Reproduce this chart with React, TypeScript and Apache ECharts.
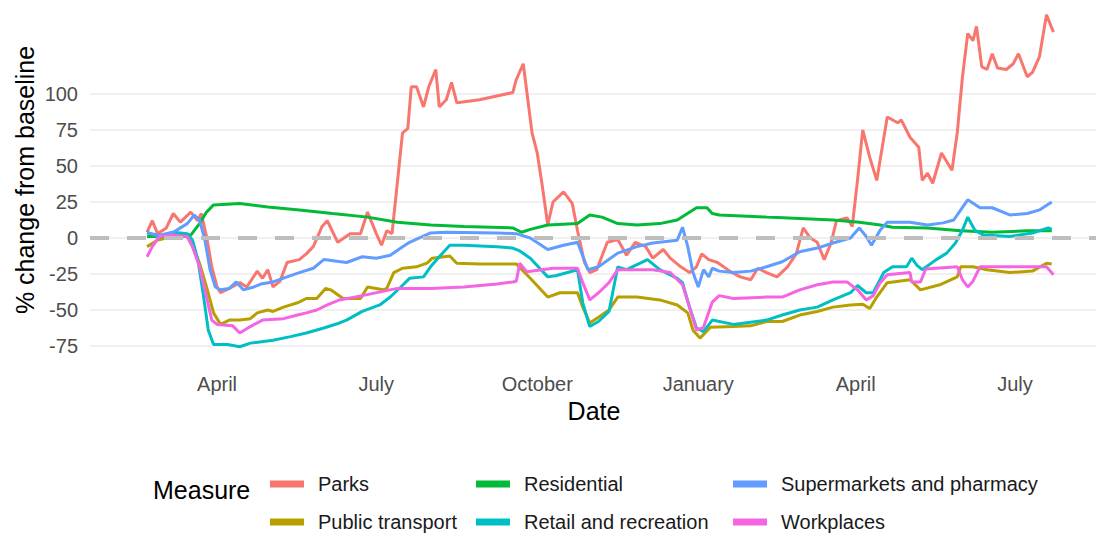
import React, { useEffect, useRef } from 'react';
import * as echarts from 'echarts';

// ---------------- DATA ----------------
const parksDates = ['2020-02-21','2020-02-24','2020-02-27','2020-03-03','2020-03-07','2020-03-11','2020-03-17','2020-03-21','2020-03-23','2020-03-26','2020-03-29','2020-04-01','2020-04-03','2020-04-08','2020-04-14','2020-04-18','2020-04-24','2020-04-27','2020-04-30','2020-05-03','2020-05-07','2020-05-11','2020-05-18','2020-05-22','2020-05-26','2020-05-31','2020-06-03','2020-06-09','2020-06-16','2020-06-22','2020-06-26','2020-07-01','2020-07-04','2020-07-07','2020-07-10','2020-07-13','2020-07-16','2020-07-19','2020-07-21','2020-07-24','2020-07-28','2020-07-31','2020-08-04','2020-08-06','2020-08-10','2020-08-13','2020-08-16','2020-08-29','2020-09-17','2020-09-19','2020-09-23','2020-09-28','2020-10-01','2020-10-04','2020-10-07','2020-10-10','2020-10-16','2020-10-21','2020-10-24','2020-10-28','2020-10-31','2020-11-04','2020-11-10','2020-11-16','2020-11-21','2020-11-26','2020-12-02','2020-12-06','2020-12-12','2020-12-16','2020-12-22','2020-12-27','2020-12-31','2021-01-03','2021-01-07','2021-01-12','2021-01-19','2021-01-25','2021-01-31','2021-02-04','2021-02-09','2021-02-15','2021-02-21','2021-02-26','2021-03-02','2021-03-06','2021-03-10','2021-03-14','2021-03-18','2021-03-21','2021-03-27','2021-03-30','2021-04-02','2021-04-05','2021-04-09','2021-04-13','2021-04-19','2021-04-25','2021-04-27','2021-05-02','2021-05-07','2021-05-09','2021-05-12','2021-05-15','2021-05-20','2021-05-26','2021-05-29','2021-06-01','2021-06-04','2021-06-07','2021-06-09','2021-06-12','2021-06-15','2021-06-18','2021-06-21','2021-06-26','2021-06-30','2021-07-03','2021-07-08','2021-07-11','2021-07-15','2021-07-19','2021-07-23'];
const parksValues = [4,12,3,7,17,11,18,12,17,1,-20,-34,-38,-35,-31,-34,-23,-28,-22,-34,-30,-17,-15,-11,-6,8,12,-3,3,3,18,3,-5,5,3,38,73,76,105,105,91,105,117,91,96,108,94,96,101,110,121,73,59,35,9,25,32,24,5,-17,-24,-22,-3,-1,-12,-3,-6,-14,-8,-14,-20,-24,-20,-11,-15,-17,-23,-27,-29,-21,-24,-27,-20,-11,7,0,-3,-15,-3,12,14,8,40,75,56,40,84,80,82,70,63,40,45,38,59,47,73,112,142,137,147,119,117,128,118,117,121,128,112,115,126,155,143];

const transportDates = ['2020-02-21','2020-02-27','2020-03-07','2020-03-15','2020-03-18','2020-03-22','2020-03-26','2020-03-30','2020-04-03','2020-04-08','2020-04-14','2020-04-20','2020-04-24','2020-04-30','2020-05-03','2020-05-09','2020-05-17','2020-05-22','2020-05-28','2020-06-02','2020-06-05','2020-06-12','2020-06-22','2020-06-26','2020-07-05','2020-07-07','2020-07-11','2020-07-16','2020-07-24','2020-07-30','2020-08-02','2020-08-12','2020-08-16','2020-08-29','2020-09-19','2020-09-27','2020-10-07','2020-10-14','2020-10-24','2020-10-27','2020-10-31','2020-11-05','2020-11-11','2020-11-16','2020-11-27','2020-12-10','2020-12-20','2020-12-26','2020-12-29','2021-01-02','2021-01-08','2021-01-21','2021-01-31','2021-02-09','2021-02-18','2021-02-28','2021-03-10','2021-03-19','2021-03-29','2021-04-05','2021-04-09','2021-04-13','2021-04-19','2021-05-02','2021-05-08','2021-05-19','2021-05-29','2021-05-31','2021-06-07','2021-06-15','2021-06-28','2021-07-11','2021-07-19','2021-07-22'];
const transportValues = [-6,-1.5,1,1,-6,-17.5,-34,-52,-60,-57,-57,-56,-52,-50,-51,-48,-45,-42,-42,-35,-36,-42,-42,-34,-36,-35,-24,-21,-20,-17.5,-14,-12.5,-17.5,-18,-18,-28,-41,-38,-38,-48,-59,-55,-50,-41,-41,-43,-46.5,-52,-64,-69.5,-62,-61.5,-61,-58,-58,-53.5,-51,-48,-46.5,-46,-49,-41,-31,-29,-36,-32.5,-27,-20,-20,-22,-24,-23,-17.5,-18];

const residentialDates = ['2020-02-21','2020-03-06','2020-03-13','2020-03-17','2020-03-22','2020-03-26','2020-03-30','2020-04-14','2020-04-30','2020-05-18','2020-06-06','2020-06-26','2020-07-13','2020-08-01','2020-08-20','2020-09-17','2020-09-22','2020-09-27','2020-10-07','2020-10-24','2020-10-31','2020-11-07','2020-11-16','2020-11-27','2020-12-10','2020-12-20','2020-12-31','2021-01-06','2021-01-09','2021-01-13','2021-02-09','2021-02-28','2021-03-19','2021-04-03','2021-04-15','2021-04-22','2021-05-12','2021-05-31','2021-06-18','2021-07-08','2021-07-22'];
const residentialValues = [1,1,2,2,10,18,23,24,21.5,19.5,17,14.5,11,9,8,7,4,6,9,10,16,14.5,10,9,10,12.5,21,21,17,16,14.5,13.5,12.5,11,9,7.5,7,5,4,5,5];

const retailDates = ['2020-02-21','2020-02-27','2020-03-07','2020-03-15','2020-03-18','2020-03-21','2020-03-24','2020-03-27','2020-03-30','2020-04-07','2020-04-14','2020-04-20','2020-05-03','2020-05-13','2020-05-22','2020-06-01','2020-06-10','2020-06-14','2020-06-23','2020-07-03','2020-07-09','2020-07-15','2020-07-20','2020-07-28','2020-08-01','2020-08-06','2020-08-12','2020-08-20','2020-09-08','2020-09-17','2020-09-21','2020-09-27','2020-10-07','2020-10-12','2020-10-24','2020-10-27','2020-10-31','2020-11-05','2020-11-11','2020-11-16','2020-11-21','2020-12-03','2020-12-10','2020-12-20','2020-12-23','2020-12-27','2020-12-31','2021-01-04','2021-01-09','2021-01-21','2021-02-09','2021-02-18','2021-02-28','2021-03-10','2021-03-19','2021-03-29','2021-04-02','2021-04-07','2021-04-11','2021-04-17','2021-04-22','2021-04-30','2021-05-03','2021-05-06','2021-05-09','2021-05-17','2021-05-23','2021-05-28','2021-06-01','2021-06-04','2021-06-08','2021-06-13','2021-06-28','2021-07-11','2021-07-20','2021-07-22'];
const retailValues = [4,1,4,3,-1.5,-15,-38,-64,-74,-74,-75.5,-73,-71,-68.5,-66,-62.5,-59,-57,-51,-46.5,-41,-34,-28,-27,-20,-13,-5,-5,-6,-7,-9,-14,-27,-26,-22,-45,-61.5,-58,-51,-20,-22,-15,-22,-28,-31,-48,-62.5,-65,-57,-60,-57,-53.5,-50,-48,-43,-38,-33,-38,-38,-24,-20,-20,-14,-19,-22,-15,-10.5,-3.5,5.5,14.5,5.5,2,1,3.5,7,6];

const supermarketDates = ['2020-02-21','2020-02-28','2020-03-07','2020-03-15','2020-03-19','2020-03-22','2020-03-25','2020-03-28','2020-03-31','2020-04-03','2020-04-08','2020-04-12','2020-04-16','2020-04-22','2020-04-26','2020-05-03','2020-05-11','2020-05-18','2020-05-26','2020-06-01','2020-06-14','2020-06-23','2020-07-01','2020-07-09','2020-07-15','2020-07-20','2020-08-01','2020-08-10','2020-09-08','2020-09-19','2020-09-27','2020-10-07','2020-10-16','2020-10-24','2020-10-30','2020-11-05','2020-11-16','2020-11-27','2020-12-06','2020-12-20','2020-12-23','2020-12-26','2020-12-29','2021-01-01','2021-01-04','2021-01-07','2021-01-09','2021-01-13','2021-01-21','2021-01-31','2021-02-09','2021-02-18','2021-02-28','2021-03-10','2021-03-19','2021-03-29','2021-04-03','2021-04-07','2021-04-10','2021-04-15','2021-04-19','2021-05-02','2021-05-12','2021-05-21','2021-05-27','2021-05-31','2021-06-04','2021-06-11','2021-06-18','2021-06-28','2021-07-08','2021-07-15','2021-07-22'];
const supermarketValues = [3.5,2,4,10,16,12.5,-1,-22,-34,-36,-35,-30.5,-36,-34,-32,-30.5,-27,-24,-21,-15,-17,-13,-14,-12,-7,-3,3.5,4,3.5,3,0,-8,-5,-3,-22,-20,-10.5,-6,-3.5,-1.5,7.5,-6,-24,-34,-22,-27,-21,-23,-24,-23,-20,-16.5,-9.5,-7,-3.5,0,7,1,-5,5.5,11,11,9,10.5,12.5,19.5,26.5,21,21,16,17,19.5,25];

const workplaceDates = ['2020-02-21','2020-02-24','2020-02-28','2020-03-07','2020-03-15','2020-03-18','2020-03-22','2020-03-26','2020-03-29','2020-04-01','2020-04-10','2020-04-14','2020-04-20','2020-04-27','2020-05-09','2020-05-17','2020-05-22','2020-05-28','2020-06-03','2020-06-10','2020-06-23','2020-07-13','2020-08-01','2020-08-20','2020-09-08','2020-09-17','2020-09-19','2020-09-21','2020-09-25','2020-10-10','2020-10-24','2020-10-27','2020-10-31','2020-11-05','2020-11-11','2020-11-16','2020-12-06','2020-12-16','2020-12-23','2020-12-27','2020-12-31','2021-01-04','2021-01-09','2021-01-13','2021-01-21','2021-02-09','2021-02-18','2021-02-28','2021-03-10','2021-03-19','2021-03-27','2021-04-02','2021-04-07','2021-04-11','2021-04-15','2021-04-19','2021-05-02','2021-05-03','2021-05-08','2021-05-11','2021-05-29','2021-06-01','2021-06-04','2021-06-07','2021-06-11','2021-07-19','2021-07-23'];
const workplaceValues = [-13,-6,1,2,1,-6,-20,-41,-57,-60,-61,-66,-61.5,-57,-56,-53.5,-52,-50,-46.5,-43,-40,-35,-35,-34,-32,-30.5,-30,-17.5,-23.5,-21,-21,-31,-43,-38,-31,-22,-22,-24,-32.5,-48,-64,-62,-44.5,-40,-42,-41,-41,-36,-32.5,-30.5,-30.5,-36,-43,-40,-31,-25.5,-24,-30.5,-30.5,-21.5,-20,-29,-34,-30,-20,-20,-25.5];

const measureNames = ['Parks','Public transport','Residential','Retail and recreation','Supermarkets and pharmacy','Workplaces'];
const measureColors = ['#F8766D','#B79F00','#00BA38','#00BFC4','#619CFF','#F564E3'];

const tickDates = ['2020-04-01','2020-07-01','2020-10-01','2021-01-01','2021-04-01','2021-07-01'];
const tickLabels = ['April','July','October','January','April','July'];
const yTicks = [-75, 100, 25]; // min, max, step

// ---------------- HELPERS ----------------
const FONT = "'Liberation Sans', Arial, Helvetica, sans-serif";
const dayOf = (s: string) => Math.round((Date.parse(s + 'T00:00:00Z') - Date.UTC(2020, 0, 1)) / 86400000);
const pairs = (dates: string[], vals: number[]) => dates.map((d, i) => [dayOf(d), vals[i]]);

const seriesSources: [string[], number[]][] = [
  [parksDates, parksValues],
  [transportDates, transportValues],
  [residentialDates, residentialValues],
  [retailDates, retailValues],
  [supermarketDates, supermarketValues],
  [workplaceDates, workplaceValues],
];

export default function App() {
  const ref = useRef<HTMLDivElement>(null);
  useEffect(() => {
    if (!ref.current) return;
    const chart = echarts.init(ref.current, null, { renderer: 'svg' });
    const tickDays = tickDates.map(dayOf);

    const series: any[] = seriesSources.map(([d, v], i) => ({
      name: measureNames[i],
      type: 'line',
      data: pairs(d, v),
      showSymbol: false,
      symbol: 'none',
      clip: false,
      color: measureColors[i],
      lineStyle: { width: 3, color: measureColors[i] },
      emphasis: { disabled: true },
    }));
    series[series.length - 1].markLine = {
      silent: true,
      symbol: 'none',
      label: { show: false },
      lineStyle: { color: '#BEBEBE', width: 4, type: [19, 18] },
      data: [{ yAxis: 0 }],
    };

    const legendPos = [
      [270, 474], [270, 512], [476, 474], [476, 512], [733, 474], [733, 512],
    ];

    chart.setOption({
      animation: false,
      backgroundColor: '#ffffff',
      grid: { left: 90, right: 0, top: 94, height: 252, containLabel: false },
      xAxis: {
        type: 'value',
        min: 18.4,
        max: 593.3,
        axisLine: { show: false },
        axisTick: { show: false },
        splitLine: { show: false },
        axisLabel: {
          customValues: tickDays,
          formatter: (v: number) => {
            const idx = tickDays.indexOf(Math.round(v));
            return idx >= 0 ? tickLabels[idx] : '';
          },
          margin: 28,
          fontSize: 20,
          color: '#4D4D4D',
          fontFamily: FONT,
        },
      },
      yAxis: {
        type: 'value',
        min: yTicks[0],
        max: yTicks[1],
        interval: yTicks[2],
        axisLine: { show: false },
        axisTick: { show: false },
        splitLine: { lineStyle: { color: '#EBEBEB', width: 1.5 } },
        axisLabel: { fontSize: 20, color: '#4D4D4D', margin: 12, fontFamily: FONT },
      },
      legend: measureNames.map((n, i) => ({
        data: [n],
        left: legendPos[i][0],
        top: legendPos[i][1],
        padding: 0,
        itemWidth: 34,
        itemHeight: 7,
        icon: 'rect',
        selectedMode: false,
        textStyle: { fontSize: 20, color: '#1A1A1A', fontFamily: FONT, lineHeight: 20, padding: [0, 0, 0, 9] },
      })),
      graphic: [
        {
          type: 'text',
          x: 25,
          y: 180,
          rotation: Math.PI / 2,
          style: { text: '% change from baseline', font: `25px ${FONT}`, fill: '#000', textAlign: 'center', textVerticalAlign: 'middle' },
        },
        {
          type: 'text',
          x: 594,
          y: 411,
          style: { text: 'Date', font: `25px ${FONT}`, fill: '#000', textAlign: 'center', textVerticalAlign: 'middle' },
        },
        {
          type: 'text',
          x: 153,
          y: 490,
          style: { text: 'Measure', font: `25px ${FONT}`, fill: '#000', textAlign: 'left', textVerticalAlign: 'middle' },
        },
      ],
      series,
    });
    return () => chart.dispose();
  }, []);
  return <div ref={ref} style={{ position: 'fixed', left: 0, top: 0, width: 1096, height: 534 }} />;
}
